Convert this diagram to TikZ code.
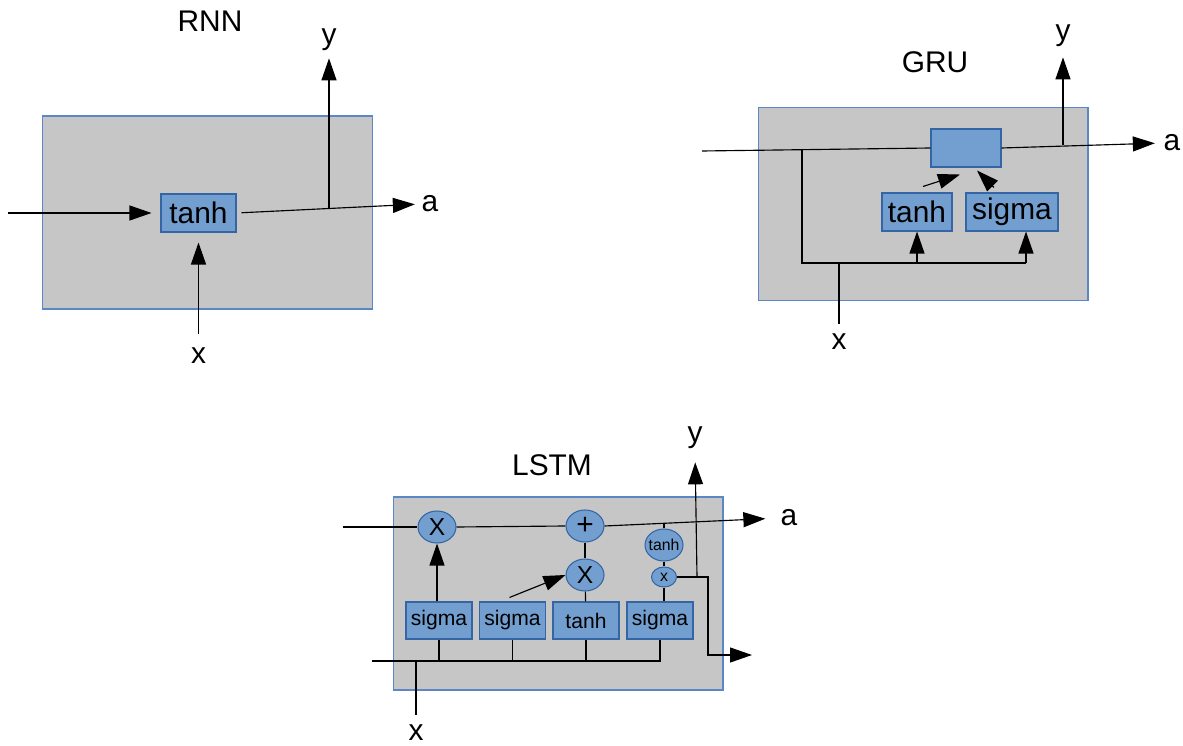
\documentclass[tikz,border=0pt]{standalone}
\usepackage{fontspec}
\setmainfont{Liberation Sans}
\usepackage{tikz}
\usetikzlibrary{arrows.meta,shapes.geometric}
\definecolor{cellgray}{HTML}{C6C6C6}
\definecolor{celledge}{HTML}{5B87C6}
\definecolor{gatefill}{HTML}{729FCF}
\definecolor{gateedge}{HTML}{3465A4}
\tikzset{
  cellbox/.style={draw=celledge,fill=cellgray,line width=0.6pt,inner sep=0pt,
                  minimum width=6.6cm,minimum height=3.86cm},
  gatebox/.style={draw=gateedge,fill=gatefill,line width=0.6pt,inner sep=0pt,
                  minimum height=0.76cm},
  opnode/.style={ellipse,draw=gateedge,fill=gatefill,line width=0.6pt,inner sep=0pt,
                 minimum width=0.76cm,minimum height=0.64cm},
  celltitle/.style={font=\fontsize{17}{20}\selectfont},
  portlabel/.style={inner sep=0pt,font=\fontsize{17}{20}\selectfont},
  bigtext/.style={font=\fontsize{17}{20}\selectfont},
  gatetext/.style={font=\fontsize{12}{14}\selectfont},
  optext/.style={font=\fontsize{14}{16}\selectfont},
  smalltext/.style={font=\fontsize{9}{11}\selectfont},
  wire/.style={line width=0.65pt},
  flowarr/.style={-{Triangle[length=0.44cm,width=0.3cm]},line width=0.65pt}
}
\begin{document}
\begin{tikzpicture}[x=0.02cm,y=-0.02cm]
  \useasboundingbox (0,0) rectangle (1183,746);

  % RNN
  \node[cellbox] (rnn) at (207.5,212.5) {};
  \node[celltitle] (rnntitle) at (210,21) {RNN};
  \node[gatebox,minimum width=1.5cm,bigtext] (rnntanh) at (198.5,213) {tanh};
  \coordinate (rnnin) at (8,213);
  \coordinate (rnnsplit) at (329,208);
  \node[portlabel] (rnna) at (430,204) {a};
  \node[portlabel] (rnny) at (329,40) {y};
  \node[portlabel] (rnnx) at (198.5,356) {x};
  \draw[flowarr,shorten >=0.18cm] (rnnin) -- (rnntanh.west);
  \draw[flowarr,shorten <=0.1cm,shorten >=0.13cm] (rnntanh.east) -- (rnna.west);
  \draw[flowarr,shorten >=0.14cm] (rnnsplit) -- (rnny.south);
  \draw[flowarr,shorten <=0.28cm,shorten >=0.2cm] (rnnx.north) -- (rnntanh.south);

  % GRU
  \node[cellbox] (gru) at (923,204) {};
  \node[celltitle] (grutitle) at (935,62) {GRU};
  \node[gatebox,minimum width=1.4cm] (gruout) at (966,148) {};
  \node[gatebox,minimum width=1.4cm,bigtext] (grutanh) at (917,212) {tanh};
  \node[gatebox,minimum width=1.84cm,bigtext] (grusigma) at (1012,212) {sigma};
  \coordinate (gruin) at (702,151);
  \coordinate (grutap) at (802,150);
  \coordinate (grujoin) at (839,263);
  \coordinate (grubusend) at (1026,263);
  \coordinate (grusplit) at (1063,145);
  \node[portlabel] (grua) at (1172,143) {a};
  \node[portlabel] (gruy) at (1063,36) {y};
  \node[portlabel] (grux) at (839,342) {x};
  \draw[wire] (gruin) -- (gruout.west);
  \draw[flowarr,shorten >=0.17cm] (gruout.east) -- (grua.west);
  \draw[flowarr,shorten >=0.2cm] (grusplit) -- (gruy.south);
  \draw[wire] (grutap) |- (grubusend);
  \draw[flowarr] (grutanh.south |- grubusend) -- (grutanh.south);
  \draw[flowarr] (grubusend) -- (grubusend |- grusigma.south);
  \draw[wire,shorten <=0.2cm] (grux.north) -- (grujoin);
  \draw[flowarr] ([shift={(6,-6)}]grutanh.north) -- ([shift={(-6,7)}]gruout.south);
  \draw[flowarr] ([shift={(-18,-5)}]grusigma.north) -- ([shift={(11,3)}]gruout.south);

  % LSTM
  \node[cellbox] (lstm) at (558,593.5) {};
  \node[celltitle] (lstmtitle) at (552,465) {LSTM};
  \node[opnode,optext] (forget) at (437,527) {X};
  \node[opnode,bigtext] (plus) at (585,526) {+};
  \node[opnode,optext] (input) at (585,575) {X};
  \node[opnode,smalltext,inner xsep=-3pt] (celltanh) at (664,545) {tanh};
  \node[opnode,smalltext,minimum width=0.5cm,minimum height=0.4cm] (outgate) at (664,577) {x};
  \node[gatebox,minimum width=1.32cm,minimum height=0.74cm,gatetext] (fgate) at (439,620.5) {sigma};
  \node[gatebox,minimum width=1.32cm,minimum height=0.74cm,gatetext] (igate) at (512.5,620.5) {sigma};
  \node[gatebox,minimum width=1.32cm,minimum height=0.74cm,gatetext] (cand) at (586,620.5) {tanh};
  \node[gatebox,minimum width=1.32cm,minimum height=0.74cm,gatetext] (ogate) at (660,620.5) {sigma};
  \coordinate (lstmin) at (343,527);
  \coordinate (lstmtap) at (664,524);
  \coordinate (lstmbus) at (372,661);
  \coordinate (lstmxjoin) at (416,661);
  \coordinate (lstmsplit) at (697,577);
  \coordinate (lstmturn) at (708,577);
  \coordinate (lstmout) at (752,655);
  \node[portlabel] (lstma) at (789,518) {a};
  \node[portlabel] (lstmy) at (695,438) {y};
  \node[portlabel] (lstmx) at (416,733) {x};
  \draw[wire] (lstmin) -- (forget.west);
  \draw[wire] (forget.east) -- (plus.west);
  \draw[flowarr,shorten >=0.3cm] (plus.east) -- (lstma.west);
  \draw[wire] (plus) -- (input);
  \draw[wire] (input) -- (cand);
  \draw[wire] (celltanh.north) -- (lstmtap);
  \draw[wire] (celltanh) -- (outgate);
  \draw[wire] (outgate.south) -- (outgate.south |- ogate.north);
  \draw[flowarr] (forget.south |- fgate.north) -- (forget.south);
  \draw[flowarr] ([shift={(-3,-4)}]igate.north) -- (input.west);
  \draw[wire] (lstmbus) -- (ogate.south |- lstmbus) -- (ogate.south);
  \foreach \g in {fgate,igate,cand}
    \draw[wire] (\g.south) -- (\g.south |- lstmbus);
  \draw[wire,shorten <=0.2cm] (lstmx.north) -- (lstmxjoin);
  \draw[flowarr] (outgate.east) -- (lstmturn) -- (lstmturn |- lstmout) -- (lstmout);
  \draw[flowarr,shorten >=0.26cm] (lstmsplit) -- (lstmy.south);
\end{tikzpicture}
\end{document}
